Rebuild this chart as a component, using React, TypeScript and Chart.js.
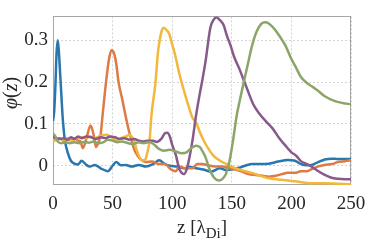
import React, { useEffect, useRef } from "react";
import { Chart, registerables } from "chart.js";

Chart.register(...registerables);

const xTicks = [0, 50, 100, 150, 200, 250];
const yTicks = [0, 0.1, 0.2, 0.3];

const zBlue = [0, 1, 2, 3, 4, 5, 6, 7, 8, 9, 10, 12.5, 15, 18, 21, 24, 28, 31, 35, 40, 46, 50, 53, 57, 61, 66, 72, 78, 84, 89, 94, 98, 104, 110, 115, 120, 126, 133, 140, 145, 150, 157, 163, 167, 174, 181, 189, 197, 203, 208, 213, 217, 222, 228, 234, 239, 245, 250];
const phiBlue = [0.107, 0.13, 0.19, 0.27, 0.3, 0.27, 0.22, 0.17, 0.12, 0.085, 0.06, 0.03, 0.012, 0.005, 0.003, 0.012, 0.002, -0.002, 0.002, -0.006, -0.013, 0.0, 0.009, 0.001, 0.002, -0.002, 0.002, -0.002, 0.004, 0.013, 0.004, 0.0, -0.002, -0.006, -0.003, -0.006, -0.009, -0.014, -0.006, -0.01, -0.009, -0.004, 0.002, 0.004, 0.004, 0.005, 0.01, 0.014, 0.012, 0.004, 0.001, 0.002, 0.008, 0.015, 0.017, 0.016, 0.016, 0.016];

const zOrange = [0, 3, 6, 9, 12, 15, 18, 21, 23, 25, 28, 31.5, 34, 36, 38, 40, 41.5, 44.5, 47, 49, 51, 53, 55, 58, 61, 64, 66, 68, 71, 74, 78, 83, 89, 94, 99, 103, 106, 111, 117, 121, 125, 130, 136, 142, 148, 153, 158, 164, 170, 176, 181, 187, 192, 197, 203, 208, 213, 217, 222, 228, 234, 239, 245, 250];
const phiOrange = [0.068, 0.062, 0.066, 0.06, 0.065, 0.062, 0.066, 0.06, 0.058, 0.042, 0.065, 0.096, 0.075, 0.045, 0.055, 0.075, 0.118, 0.2, 0.255, 0.276, 0.27, 0.245, 0.2, 0.16, 0.118, 0.08, 0.06, 0.04, 0.024, 0.014, 0.009, 0.01, 0.004, 0.004, -0.009, -0.013, -0.002, -0.006, -0.006, 0.004, 0.004, 0.001, -0.002, -0.002, -0.006, -0.009, -0.013, -0.02, -0.022, -0.024, -0.026, -0.024, -0.02, -0.017, -0.017, -0.013, -0.013, -0.008, -0.002, 0.002, 0.004, 0.009, 0.011, 0.013];

const zYellow = [0, 4, 8, 12, 16, 20, 24, 28, 31, 35, 40, 45, 49, 53, 57, 61, 64, 66, 68, 70, 72, 75, 77, 79, 81, 82.5, 86, 88, 89.5, 91.5, 93, 95, 97.5, 100, 102, 106, 111, 114, 117, 120, 124, 128, 134, 138, 142, 147, 153, 160, 167, 174, 181, 189, 197, 203, 210, 217, 228, 239, 250];
const phiYellow = [0.057, 0.065, 0.063, 0.062, 0.06, 0.066, 0.068, 0.066, 0.07, 0.066, 0.072, 0.074, 0.068, 0.06, 0.066, 0.07, 0.074, 0.07, 0.06, 0.04, 0.024, 0.013, 0.013, 0.03, 0.06, 0.118, 0.2, 0.27, 0.3, 0.325, 0.33, 0.325, 0.315, 0.29, 0.27, 0.22, 0.168, 0.14, 0.115, 0.103, 0.075, 0.052, 0.026, 0.016, 0.009, 0.002, -0.006, -0.012, -0.017, -0.024, -0.03, -0.033, -0.035, -0.037, -0.04, -0.042, -0.042, -0.043, -0.044];

const zPurple = [0, 3, 6, 9, 12, 15, 18, 21, 24, 28, 32, 36, 40, 44, 48, 52, 56, 60, 64, 68, 72, 76, 80, 84, 87, 91, 94, 96, 98, 100, 103, 106, 108, 110, 112, 114, 117, 120, 123, 125, 128, 132, 135, 137, 140, 143, 146, 149, 152, 156, 162, 168, 173, 179, 184, 190, 195, 200, 204, 208, 213, 217, 222, 228, 233, 239, 245, 250];
const phiPurple = [0.07, 0.066, 0.064, 0.066, 0.062, 0.068, 0.064, 0.07, 0.066, 0.07, 0.068, 0.064, 0.068, 0.066, 0.07, 0.068, 0.064, 0.066, 0.062, 0.064, 0.06, 0.058, 0.06, 0.06, 0.057, 0.065, 0.078, 0.079, 0.07, 0.05, 0.026, -0.008, -0.017, -0.02, -0.01, 0.013, 0.06, 0.12, 0.17, 0.2, 0.25, 0.33, 0.35, 0.355, 0.348, 0.337, 0.31, 0.287, 0.26, 0.234, 0.19, 0.147, 0.125, 0.105, 0.09, 0.065, 0.048, 0.032, 0.024, 0.011, 0.004, -0.002, -0.012, -0.022, -0.028, -0.031, -0.032, -0.032];

const zGreen = [0, 2, 4, 7, 10, 14, 18, 22, 26, 30, 34, 38, 42, 46, 50, 54, 58, 62, 67, 72, 76, 81, 85, 89, 93, 98, 103, 108, 112, 116, 120, 123, 125, 128, 131, 135, 139, 142, 145, 148, 151, 154, 157, 161, 164, 167, 170, 172.5, 175, 178, 181, 186, 190, 195, 200, 204, 208, 213, 217, 222, 228, 236, 243, 250];
const phiGreen = [0.077, 0.07, 0.058, 0.054, 0.056, 0.054, 0.056, 0.054, 0.057, 0.055, 0.058, 0.054, 0.056, 0.062, 0.06, 0.056, 0.058, 0.055, 0.052, 0.056, 0.054, 0.057, 0.05, 0.04, 0.036, 0.038, 0.034, 0.03, 0.032, 0.042, 0.048, 0.045, 0.037, 0.02, -0.006, -0.028, -0.035, -0.032, -0.02, 0.01, 0.06, 0.118, 0.16, 0.212, 0.25, 0.287, 0.315, 0.33, 0.34, 0.343, 0.34, 0.326, 0.31, 0.287, 0.255, 0.234, 0.212, 0.198, 0.19, 0.18, 0.166, 0.155, 0.15, 0.147];

const seriesZ = [zBlue, zOrange, zYellow, zPurple, zGreen];
const seriesPhi = [phiBlue, phiOrange, phiYellow, phiPurple, phiGreen];
const seriesColors = ["#2a77ad", "#dd7a45", "#f2b83c", "#88598a", "#8ba668"];

const FONT = "'Liberation Serif', 'DejaVu Serif', serif";

const boxAndTitles = {
  id: "boxAndTitles",
  beforeDatasetsDraw(chart: any) {
    const { ctx, chartArea } = chart;
    ctx.save();
    ctx.strokeStyle = "#a6a6a6";
    ctx.lineWidth = 1;
    ctx.strokeRect(
      Math.round(chartArea.left) + 0.5,
      Math.round(chartArea.top) + 0.5,
      Math.round(chartArea.right - chartArea.left) - 1,
      Math.round(chartArea.bottom - chartArea.top) - 1
    );
    ctx.restore();
  },
  afterDraw(chart: any) {
    const { ctx, chartArea } = chart;
    ctx.save();
    ctx.fillStyle = "#262626";
    ctx.textBaseline = "alphabetic";
    const parts: [string, string][] = [
      ["φ", "italic 20px " + FONT],
      ["(", "20px " + FONT],
      ["z", "italic 20px " + FONT],
      [")", "20px " + FONT],
    ];
    let tw = 0;
    for (const [t, f] of parts) {
      ctx.font = f;
      tw += ctx.measureText(t).width;
    }
    ctx.translate(17, 93);
    ctx.rotate(-Math.PI / 2);
    let x = -tw / 2;
    for (const [t, f] of parts) {
      ctx.font = f;
      ctx.fillText(t, x, 0);
      x += ctx.measureText(t).width;
    }
    ctx.setTransform(1, 0, 0, 1, 0, 0);
    const main1 = "z [λ";
    const sub = "Di";
    const main2 = "]";
    ctx.font = "19px " + FONT;
    const w1 = ctx.measureText(main1).width;
    const w3 = ctx.measureText(main2).width;
    ctx.font = "15px " + FONT;
    const w2 = ctx.measureText(sub).width;
    const cx = (chartArea.left + chartArea.right) / 2;
    let sx = cx - (w1 + w2 + w3) / 2;
    const base = 233;
    ctx.font = "19px " + FONT;
    ctx.fillText(main1, sx, base);
    sx += w1;
    ctx.font = "15px " + FONT;
    ctx.fillText(sub, sx, base + 5);
    sx += w2;
    ctx.font = "19px " + FONT;
    ctx.fillText(main2, sx, base);
    ctx.restore();
  },
};

export default function App() {
  const ref = useRef<HTMLCanvasElement | null>(null);
  useEffect(() => {
    if (!ref.current) return;
    const datasets = seriesZ.map((zs, i) => ({
      label: "s" + i,
      data: zs.map((z, j) => ({ x: z, y: seriesPhi[i][j] })),
      borderColor: seriesColors[i],
      backgroundColor: seriesColors[i],
      borderWidth: 2.5,
      pointRadius: 0,
      cubicInterpolationMode: "monotone" as const,
      fill: false,
      order: 4 - i,
    }));
    const chart = new Chart(ref.current, {
      type: "line",
      data: { datasets },
      options: {
        animation: false,
        responsive: false,
        maintainAspectRatio: false,
        layout: { padding: { left: 0, top: 1, right: 23, bottom: 0 } },
        plugins: { legend: { display: false }, tooltip: { enabled: false } },
        scales: {
          x: {
            type: "linear",
            min: 0,
            max: 250,
            afterBuildTicks: (s: any) => {
              s.ticks = xTicks.map((v) => ({ value: v }));
            },
            afterFit: (s: any) => {
              s.height = 61;
            },
            ticks: {
              font: { family: FONT, size: 19 },
              color: "#262626",
              padding: 8,
              maxRotation: 0,
              autoSkip: false,
            },
            grid: { color: "#d4d4d4", drawTicks: false, lineWidth: 1 },
            border: { display: false, dash: [2, 2] },
          },
          y: {
            type: "linear",
            min: -0.046,
            max: 0.357,
            afterBuildTicks: (s: any) => {
              s.ticks = yTicks.map((v) => ({ value: v }));
            },
            afterFit: (s: any) => {
              s.width = 53;
            },
            ticks: {
              font: { family: FONT, size: 19 },
              color: "#262626",
              padding: 5,
              callback: (v: any) => (v === 0 ? "0" : Number(v).toFixed(1)),
            },
            grid: { color: "#d4d4d4", drawTicks: false, lineWidth: 1 },
            border: { display: false, dash: [2, 2] },
          },
        },
      },
      plugins: [boxAndTitles],
    });
    return () => chart.destroy();
  }, []);
  return (
    <div style={{ position: "fixed", left: 0, top: 0, width: 374, height: 246, background: "#fff" }}>
      <canvas ref={ref} width={374} height={246} style={{ display: "block", width: 374, height: 246 }} />
    </div>
  );
}
